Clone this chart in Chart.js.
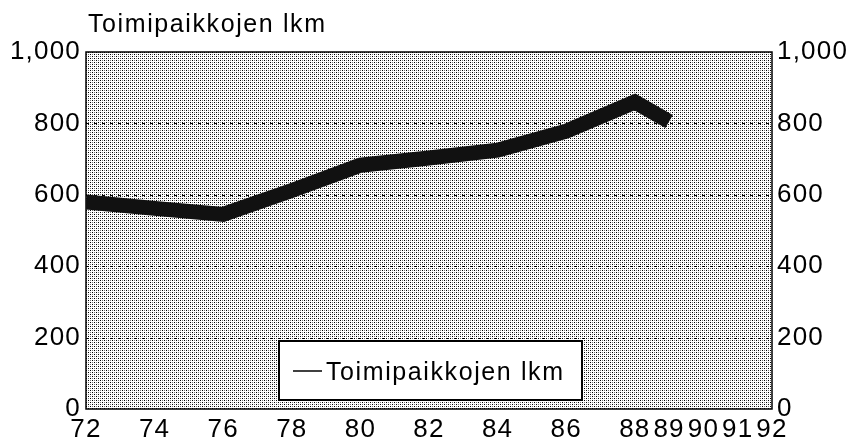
<!DOCTYPE html>
<html>
<head>
<meta charset="utf-8">
<script src="https://cdn.jsdelivr.net/npm/chart.js@4/dist/chart.umd.min.js"></script>
<style>
  html, body { margin: 0; padding: 0; background: #fff; }
  #wrap { width: 850px; height: 448px; }
</style>
</head>
<body>
<div id="wrap"><canvas id="c" width="850" height="448"></canvas></div>
<script>
// ---- data ----
const chartTitle = 'Toimipaikkojen lkm';
const seriesLabel = 'Toimipaikkojen lkm';
const years = [72, 74, 76, 78, 80, 82, 84, 86, 88, 89];
const counts = [580, 562, 545, 612, 683, 703, 725, 778, 860, 805];
const xTickValues = [72, 74, 76, 78, 80, 82, 84, 86, 88, 89, 90, 91, 92];
const yTickValues = [0, 200, 400, 600, 800, 1000];
const gridValues = [200, 400, 600, 800];

const FONT = "'Liberation Sans', Arial, sans-serif";
const SPACING = '1.2px';

function makePattern(ctx) {
  const t = document.createElement('canvas');
  t.width = 4; t.height = 4;
  const g = t.getContext('2d');
  g.fillStyle = '#ffffff'; g.fillRect(0, 0, 4, 4);
  g.fillStyle = '#000000';
  g.fillRect(0, 0, 1, 1); g.fillRect(2, 2, 1, 1);
  g.fillStyle = '#777777';
  g.fillRect(0, 2, 1, 1); g.fillRect(2, 0, 1, 1);
  return ctx.createPattern(t, 'repeat');
}

const spacingPlugin = {
  id: 'spacing',
  beforeUpdate(c) { c.ctx.letterSpacing = SPACING; },
  beforeDraw(c) { c.ctx.letterSpacing = SPACING; }
};

const plotPlugin = {
  id: 'plot',
  beforeDatasetsDraw(c) {
    const { ctx, chartArea: a, scales } = c;
    ctx.save();
    ctx.fillStyle = makePattern(ctx);
    ctx.fillRect(a.left, a.top, a.right - a.left, a.bottom - a.top);
    ctx.strokeStyle = '#000';
    ctx.lineWidth = 1;
    ctx.setLineDash([3, 5]);
    gridValues.forEach(v => {
      const y = Math.round(scales.y.getPixelForValue(v)) + 0.5;
      ctx.beginPath(); ctx.moveTo(a.left, y); ctx.lineTo(a.right, y); ctx.stroke();
    });
    ctx.setLineDash([]);
    ctx.lineWidth = 1.5;
    ctx.strokeRect(a.left, a.top, a.right - a.left, a.bottom - a.top);
    ctx.restore();
  },
  afterDraw(c) {
    const { ctx, chartArea: a } = c;
    ctx.save();
    ctx.letterSpacing = '1.6px';
    // title
    ctx.fillStyle = '#000';
    ctx.font = '25px ' + FONT;
    ctx.textAlign = 'left';
    ctx.textBaseline = 'alphabetic';
    ctx.fillText(chartTitle, a.left + 2, 32);
    // legend box inside plot
    const bx = a.left + 193, by = a.bottom - 68, bw = 303, bh = 59;
    ctx.fillStyle = '#fff';
    ctx.fillRect(bx, by, bw, bh);
    ctx.strokeStyle = '#000';
    ctx.lineWidth = 2;
    ctx.strokeRect(bx, by, bw, bh);
    ctx.lineWidth = 1.5;
    ctx.beginPath(); ctx.moveTo(bx + 14, by + 30); ctx.lineTo(bx + 43, by + 30); ctx.stroke();
    ctx.fillStyle = '#000';
    ctx.font = '25px ' + FONT;
    ctx.textBaseline = 'middle';
    ctx.fillText(c.data.datasets[0].label, bx + 47, by + 32);
    ctx.restore();
  }
};

const ctx = document.getElementById('c').getContext('2d');
new Chart(ctx, {
  type: 'line',
  data: {
    datasets: [{
      label: seriesLabel,
      data: years.map((x, i) => ({ x: x, y: counts[i] })),
      borderColor: '#111',
      borderWidth: 15,
      borderJoinStyle: 'miter',
      borderCapStyle: 'butt',
      pointRadius: 0,
      tension: 0,
      yAxisID: 'y'
    }]
  },
  options: {
    responsive: false,
    animation: false,
    devicePixelRatio: 1,
    layout: { padding: { top: 52, left: 0, right: 0, bottom: 0 } },
    plugins: { legend: { display: false }, title: { display: false }, tooltip: { enabled: false } },
    scales: {
      x: {
        type: 'linear', min: 72, max: 92,
        afterBuildTicks: s => { s.ticks = xTickValues.map(v => ({ value: v })); },
        afterFit: s => { s.height = 39; },
        grid: { display: false, drawTicks: false },
        border: { display: false },
        ticks: { autoSkip: false, maxRotation: 0, padding: 5, color: '#000',
                 font: { family: FONT, size: 26 } }
      },
      y: {
        position: 'left', min: 0, max: 1000,
        afterBuildTicks: s => { s.ticks = yTickValues.map(v => ({ value: v })); },
        afterFit: s => { s.width = 86; },
        grid: { display: false, drawTicks: false },
        border: { display: false },
        ticks: { padding: 5, color: '#000', font: { family: FONT, size: 26 } }
      },
      y2: {
        position: 'right', min: 0, max: 1000,
        afterBuildTicks: s => { s.ticks = yTickValues.map(v => ({ value: v })); },
        afterFit: s => { s.width = 78; },
        grid: { display: false, drawTicks: false },
        border: { display: false },
        ticks: { padding: 5, color: '#000', font: { family: FONT, size: 26 } }
      }
    }
  },
  plugins: [spacingPlugin, plotPlugin]
});
</script>
</body>
</html>
